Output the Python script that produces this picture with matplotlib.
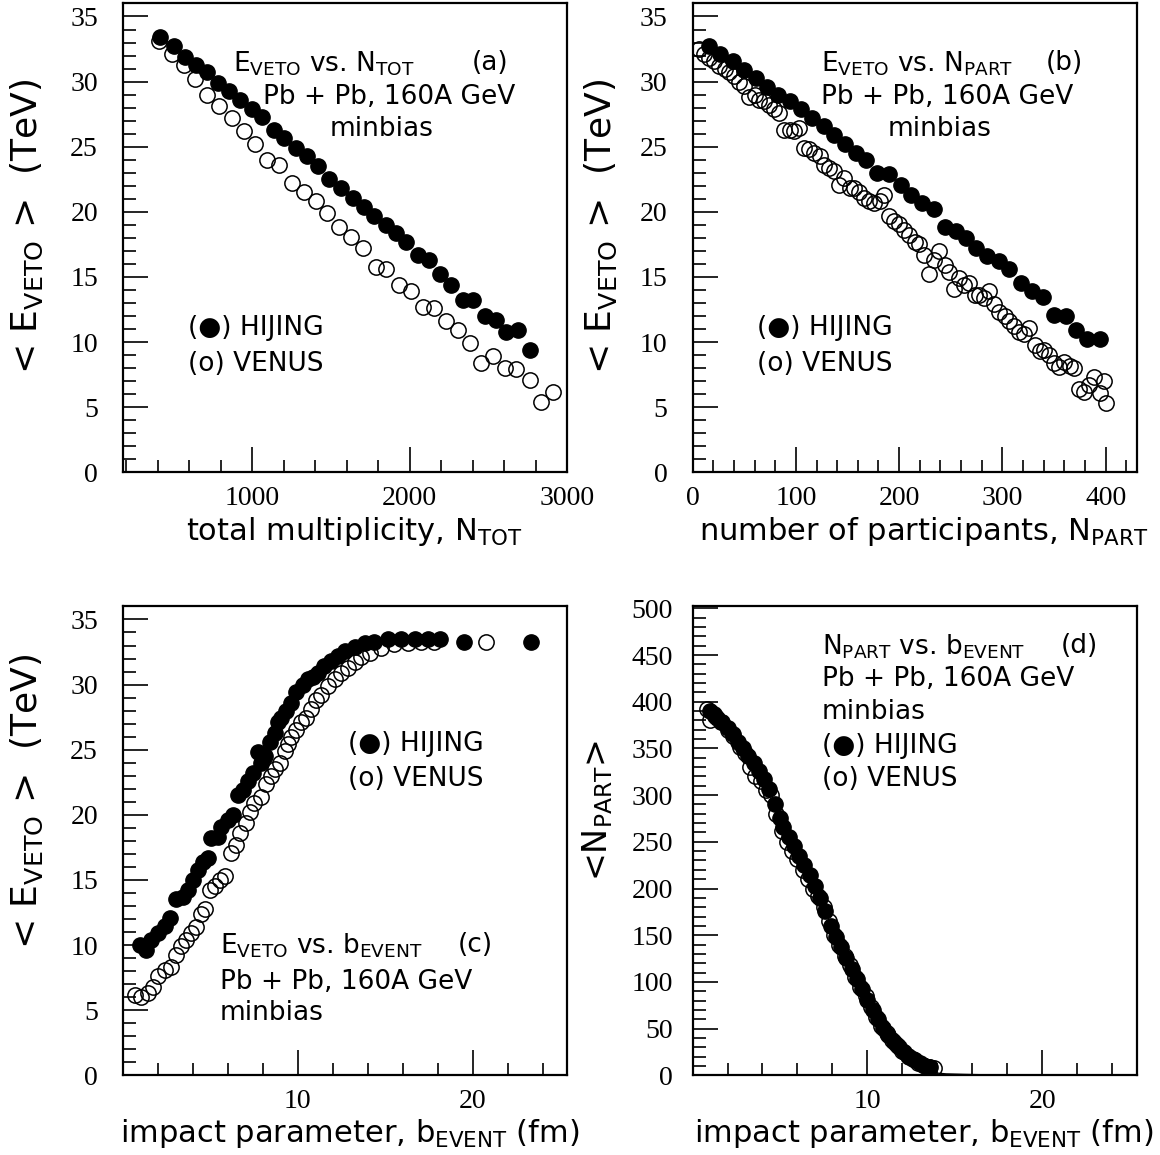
import matplotlib
matplotlib.use("Agg")
import matplotlib.pyplot as plt
from matplotlib.ticker import MultipleLocator

# (a) <E_veto> vs total multiplicity
ntot_hijing = [416, 501, 575, 643, 713, 781, 851, 926, 1000, 1064, 1138, 1202, 1276, 1350, 1420, 1488, 1563,
               1637, 1711, 1775, 1849, 1913, 1977, 2051, 2125, 2193, 2263, 2337, 2401, 2475, 2550, 2613, 2687, 2762]
eveto_ntot_hijing = [33.4, 32.7, 31.9, 31.3, 30.7, 29.9, 29.3, 28.6, 27.9, 27.3, 26.3, 25.7, 24.9, 24.3, 23.5, 22.5, 21.8,
                     21.1, 20.4, 19.7, 19.0, 18.4, 17.7, 16.7, 16.3, 15.2, 14.4, 13.2, 13.2, 12.0, 11.7, 10.8, 10.9, 9.4]
ntot_venus = [406, 490, 565, 639, 713, 788, 873, 947, 1021, 1096, 1170, 1255, 1329, 1403, 1478, 1552, 1626,
              1701, 1786, 1849, 1934, 2008, 2083, 2157, 2231, 2306, 2380, 2454, 2529, 2603, 2677, 2762, 2836, 2911]
eveto_ntot_venus = [33.1, 32.1, 31.3, 30.2, 29.0, 28.1, 27.2, 26.2, 25.2, 24.0, 23.6, 22.2, 21.5, 20.8, 19.9, 18.8, 18.1,
                    17.2, 15.8, 15.6, 14.4, 13.9, 12.7, 12.6, 11.6, 10.9, 9.9, 8.4, 8.9, 8.0, 7.9, 7.1, 5.4, 6.2]

# (b) <E_veto> vs number of participants
npart_hijing = [16, 27, 39, 50, 61, 72, 83, 94, 105, 116, 127, 137, 148, 158, 168, 179, 190, 202, 211, 222,
                234, 244, 255, 265, 274, 285, 297, 306, 318, 329, 339, 350, 361, 371, 382, 394]
eveto_npart_hijing = [32.7, 32.1, 31.6, 30.9, 30.3, 29.6, 29.0, 28.5, 27.9, 27.2, 26.6, 25.9, 25.2, 24.5, 24.0, 23.0,
                      22.9, 22.1, 21.3, 20.7, 20.2, 18.8, 18.5, 18.0, 17.2, 16.6, 16.2, 15.6, 14.5, 13.9, 13.5, 12.1,
                      12.0, 10.9, 10.2, 10.2]
npart_venus = [6.5, 11, 16, 21, 26, 31, 35, 40, 45, 50, 55, 60, 64, 69, 74, 79, 84, 89, 94, 98, 103, 108, 113, 118,
               123, 127, 132, 137, 142, 147, 152, 156, 161, 166, 171, 176, 181, 185, 190, 195, 200, 205, 210, 215,
               219, 224, 229, 234, 239, 244, 248, 253, 258, 263, 268, 273, 277, 282, 287, 292, 297, 302, 306, 311,
               316, 321, 326, 331, 336, 340, 345, 350, 355, 360, 365, 369, 374, 379, 384, 389, 394, 398, 400]
eveto_npart_venus = [32.5, 32.1, 31.8, 31.6, 31.2, 31.0, 30.7, 30.4, 30.0, 29.7, 28.8, 29.0, 28.6, 28.5, 28.2, 27.9,
                     27.6, 26.3, 26.3, 26.2, 26.4, 24.9, 24.8, 24.5, 24.3, 23.6, 23.4, 23.1, 22.1, 22.6, 21.8, 21.8,
                     21.5, 21.1, 20.8, 20.7, 20.8, 21.3, 19.7, 19.3, 19.1, 18.6, 18.2, 17.7, 17.5, 16.7, 15.2, 16.3,
                     17.0, 15.9, 15.4, 14.1, 14.9, 14.4, 14.5, 13.6, 13.6, 13.4, 13.9, 12.9, 12.3, 12.0, 11.6, 11.2,
                     10.8, 10.6, 11.1, 9.8, 9.3, 9.4, 9.0, 8.4, 8.1, 8.5, 8.2, 8.0, 6.4, 6.2, 6.7, 7.3, 6.1, 7.0, 5.3]

# (c) <E_veto> vs impact parameter
b_hijing_c = [0.95, 1.33, 1.62, 2.0, 2.38, 2.67, 3.05, 3.43, 3.71, 4.0, 4.29, 4.57, 4.86, 5.05, 5.43, 5.62, 6.0,
              6.29, 6.57, 6.86, 7.14, 7.43, 7.71, 7.9, 8.1, 8.38, 8.67, 8.86, 9.05, 9.33, 9.62, 9.9, 10.29, 10.57,
              10.86, 11.14, 11.52, 11.9, 12.29, 12.67, 13.24, 13.81, 14.38, 15.14, 15.9, 16.67, 17.43, 18.1,
              19.52, 23.33]
eveto_b_hijing = [10.0, 9.6, 10.4, 10.9, 11.5, 12.1, 13.5, 13.7, 14.2, 15.0, 15.8, 16.4, 16.7, 18.2, 18.3, 19.1,
                  19.6, 20.0, 21.5, 21.9, 22.6, 23.2, 24.8, 24.0, 24.5, 25.6, 26.3, 27.1, 27.4, 28.0, 28.6, 29.4,
                  30.0, 30.4, 30.6, 30.9, 31.4, 31.8, 32.2, 32.6, 32.9, 33.2, 33.3, 33.5, 33.5, 33.5, 33.5, 33.5,
                  33.3, 33.3]
b_venus_c = [0.67, 1.05, 1.43, 1.71, 2.0, 2.38, 2.76, 3.05, 3.33, 3.62, 3.9, 4.19, 4.48, 4.67, 4.95, 5.24, 5.52,
             5.81, 6.19, 6.48, 6.67, 7.05, 7.24, 7.52, 7.9, 8.19, 8.48, 8.67, 8.95, 9.24, 9.43, 9.62, 9.9, 10.19,
             10.48, 10.76, 11.05, 11.33, 11.71, 12.1, 12.48, 12.86, 13.24, 13.62, 14.1, 14.76, 15.52, 16.29,
             17.05, 17.81, 20.76]
eveto_b_venus = [6.2, 6.0, 6.3, 6.8, 7.6, 8.1, 8.3, 9.2, 9.9, 10.4, 10.9, 11.4, 12.4, 12.8, 14.2, 14.5, 15.0,
                 15.3, 17.1, 17.7, 18.6, 19.4, 20.2, 20.9, 21.4, 22.4, 23.0, 23.5, 24.0, 24.9, 25.4, 26.0, 26.5,
                 27.1, 27.4, 28.1, 28.8, 29.2, 29.9, 30.4, 30.9, 31.3, 31.7, 32.1, 32.4, 32.8, 33.1, 33.2, 33.3,
                 33.3, 33.3]

# (d) <N_part> vs impact parameter
b_hijing_d = [1.0, 1.2, 1.4, 1.7, 2.0, 2.3, 2.6, 2.9, 3.2, 3.5, 3.8, 4.1, 4.4, 4.7, 5.0, 5.2, 5.5, 5.8, 6.1, 6.4,
              6.7, 7.0, 7.3, 7.6, 7.9, 8.2, 8.5, 8.8, 9.1, 9.4, 9.7, 10.0, 10.3, 10.6, 10.9, 11.2, 11.5, 11.8,
              12.1, 12.4, 12.7, 13.0, 13.3, 13.6]
npart_b_hijing = [390, 387, 383, 378, 372, 365, 357, 350, 342, 334, 326, 317, 306, 290, 276, 266, 255, 245, 235,
                  225, 214, 203, 190, 176, 160, 148, 137, 126, 114, 103, 92, 81, 70, 60, 51, 43, 36, 30, 25, 20,
                  16, 13, 10, 9]
b_venus_d = [0.8, 1.0, 1.3, 1.6, 2.0, 2.3, 2.7, 3.0, 3.3, 3.6, 3.9, 4.2, 4.5, 4.8, 5.1, 5.4, 5.7, 6.0, 6.3, 6.6,
             6.9, 7.2, 7.5, 7.8, 8.1, 8.4, 8.7, 9.0, 9.3, 9.6, 9.9, 10.2, 10.5, 10.8, 11.1, 11.4, 11.7, 12.0,
             12.3, 12.6, 12.9, 13.2, 13.5, 13.8]
npart_b_venus = [392, 380, 385, 378, 370, 363, 352, 345, 330, 320, 315, 305, 300, 280, 262, 250, 240, 232, 220,
                 210, 200, 192, 180, 165, 150, 140, 128, 118, 105, 95, 85, 73, 62, 53, 45, 38, 32, 26, 21, 17,
                 13, 11, 9, 8]
b_tail = [13.6, 14.5, 15.5, 16.5, 17.5, 18.5]
npart_tail = [3.0, 1.5, 1.0, 0.6, 0.4, 0.3]

plt.rcParams["font.family"] = "DejaVu Sans"
plt.rcParams["mathtext.default"] = "regular"

fig, ((ax1, ax2), (ax3, ax4)) = plt.subplots(nrows=2, ncols=2, figsize=(11.6, 11.55), dpi=100)
plt.subplots_adjust(left=0.106, right=0.980, top=0.997, bottom=0.069, wspace=0.282, hspace=0.286)

filled = dict(marker="o", ms=11, ls="none", color="black")
hollow = dict(marker="o", ms=11, ls="none", mfc="none", mec="black", mew=1.1)
txt = dict(fontsize=19, va="center")


def style_axes(ax, xminor, ymajor, yminor, ypad=18):
    ax.xaxis.set_minor_locator(MultipleLocator(xminor))
    ax.yaxis.set_major_locator(MultipleLocator(ymajor))
    ax.yaxis.set_minor_locator(MultipleLocator(yminor))
    ax.tick_params(which="both", direction="in", top=False, right=False, width=1.2,
                   labelsize=20, labelfontfamily="Liberation Serif")
    ax.tick_params(which="major", length=18)
    ax.tick_params(which="minor", length=9)
    ax.tick_params(axis="x", pad=10)
    ax.tick_params(axis="y", pad=ypad)
    for s in ax.spines.values():
        s.set_linewidth(1.6)


def legend_text(ax, x, y1, y2):
    ax.text(x, y1, "(\u25cf) HIJING", transform=ax.transAxes, **txt)
    ax.text(x, y2, "(o) VENUS", transform=ax.transAxes, **txt)


# (a)
ax1.plot(ntot_venus, eveto_ntot_venus, **hollow)
ax1.plot(ntot_hijing, eveto_ntot_hijing, **filled)
ax1.set_xlim(180, 3000)
ax1.set_ylim(0, 36)
ax1.set_xticks([1000, 2000, 3000])
style_axes(ax1, 200, 5, 1)
ax1.text(0.248, 0.872, "$E_{VETO}$ vs. $N_{TOT}$", transform=ax1.transAxes, **txt)
ax1.text(0.867, 0.872, "(a)", transform=ax1.transAxes, ha="right", **txt)
ax1.text(0.315, 0.801, "Pb + Pb, 160A GeV", transform=ax1.transAxes, **txt)
ax1.text(0.581, 0.733, "minbias", transform=ax1.transAxes, ha="center", **txt)
legend_text(ax1, 0.146, 0.308, 0.231)
ax1.set_xlabel("total multiplicity, $N_{TOT}$", fontsize=22)
ax1.set_ylabel("< $E_{VETO}$ >  (TeV)", fontsize=26)
ax1.xaxis.set_label_coords(0.52, -0.09)
ax1.yaxis.set_label_coords(-0.175, 0.525)

# (b)
ax2.plot(npart_venus, eveto_npart_venus, **hollow)
ax2.plot(npart_hijing, eveto_npart_hijing, **filled)
ax2.set_xlim(0, 430)
ax2.set_ylim(0, 36)
ax2.set_xticks([0, 100, 200, 300, 400])
style_axes(ax2, 20, 5, 1)
ax2.text(0.289, 0.872, "$E_{VETO}$ vs. $N_{PART}$", transform=ax2.transAxes, **txt)
ax2.text(0.88, 0.872, "(b)", transform=ax2.transAxes, ha="right", **txt)
ax2.text(0.289, 0.801, "Pb + Pb, 160A GeV", transform=ax2.transAxes, **txt)
ax2.text(0.555, 0.733, "minbias", transform=ax2.transAxes, ha="center", **txt)
legend_text(ax2, 0.146, 0.308, 0.231)
ax2.set_xlabel("number of participants, $N_{PART}$", fontsize=22)
ax2.set_ylabel("< $E_{VETO}$ >  (TeV)", fontsize=26)
ax2.xaxis.set_label_coords(0.52, -0.09)
ax2.yaxis.set_label_coords(-0.165, 0.525)

# (c)
ax3.plot(b_venus_c, eveto_b_venus, **hollow)
ax3.plot(b_hijing_c, eveto_b_hijing, **filled)
ax3.set_xlim(0, 25.4)
ax3.set_ylim(0, 36)
ax3.set_xticks([10, 20])
style_axes(ax3, 2, 5, 1)
ax3.text(0.218, 0.277, "$E_{VETO}$ vs. $b_{EVENT}$", transform=ax3.transAxes, **txt)
ax3.text(0.833, 0.277, "(c)", transform=ax3.transAxes, ha="right", **txt)
ax3.text(0.218, 0.198, "Pb + Pb, 160A GeV", transform=ax3.transAxes, **txt)
ax3.text(0.218, 0.132, "minbias", transform=ax3.transAxes, **txt)
legend_text(ax3, 0.507, 0.706, 0.632)
ax3.set_xlabel("impact parameter, $b_{EVENT}$ (fm)", fontsize=22)
ax3.set_ylabel("< $E_{VETO}$ >  (TeV)", fontsize=26)
ax3.xaxis.set_label_coords(0.51, -0.088)
ax3.yaxis.set_label_coords(-0.175, 0.585)

# (d)
ax4.plot(b_hijing_d, npart_b_hijing, **filled)
ax4.plot(b_venus_d, npart_b_venus, **hollow)
ax4.plot(b_tail, npart_tail, color="black", lw=1)
ax4.set_xlim(0, 25.4)
ax4.set_ylim(0, 502)
ax4.set_xticks([10, 20])
style_axes(ax4, 2, 50, 10, ypad=14)
ax4.text(0.291, 0.915, "$N_{PART}$ vs. $b_{EVENT}$", transform=ax4.transAxes, **txt)
ax4.text(0.912, 0.915, "(d)", transform=ax4.transAxes, ha="right", **txt)
ax4.text(0.291, 0.845, "Pb + Pb, 160A GeV", transform=ax4.transAxes, **txt)
ax4.text(0.291, 0.774, "minbias", transform=ax4.transAxes, **txt)
legend_text(ax4, 0.291, 0.702, 0.632)
ax4.set_xlabel("impact parameter, $b_{EVENT}$ (fm)", fontsize=22)
ax4.set_ylabel("<$N_{PART}$>", fontsize=24)
ax4.xaxis.set_label_coords(0.52, -0.088)
ax4.yaxis.set_label_coords(-0.175, 0.564)

fig.savefig("out.png", dpi=100)
